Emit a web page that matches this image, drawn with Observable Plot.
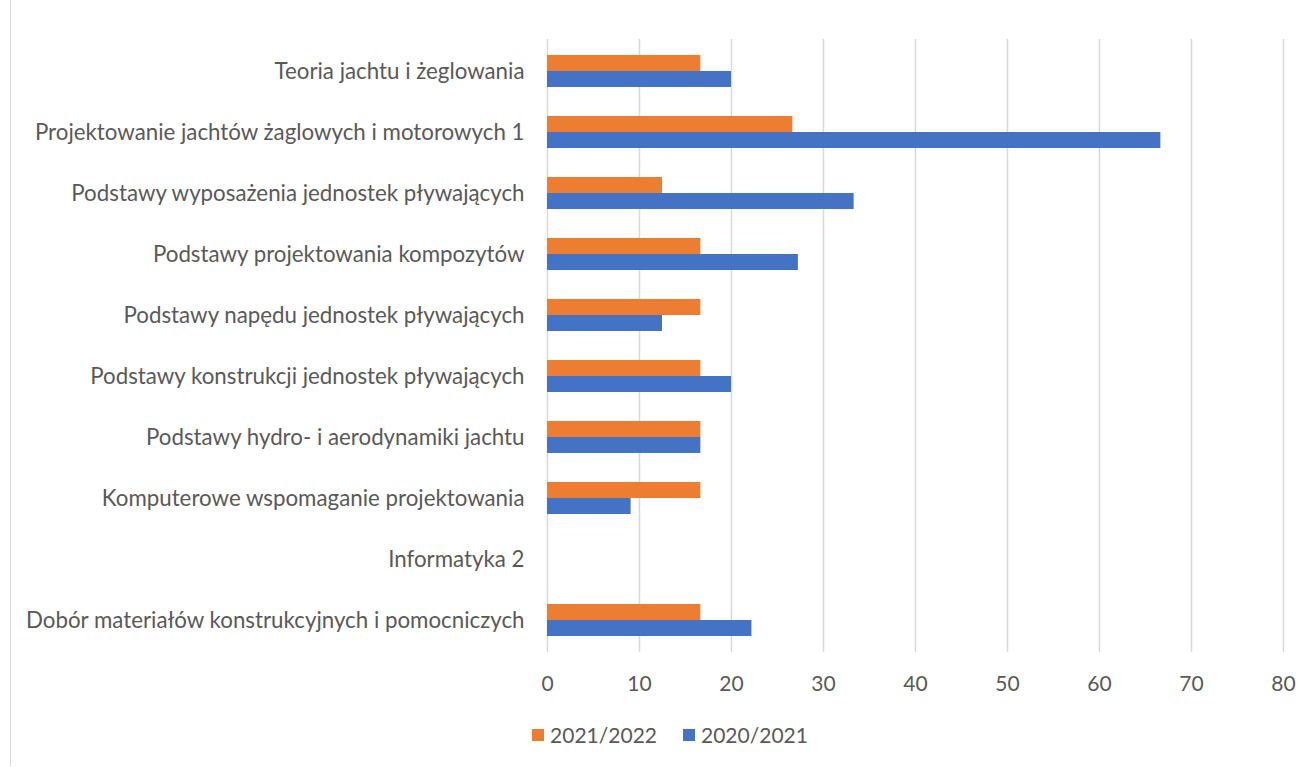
<!DOCTYPE html>
<html>
<head>
<meta charset="utf-8">
<script src="https://cdn.jsdelivr.net/npm/d3@7"></script>
<script src="https://cdn.jsdelivr.net/npm/@observablehq/plot@0.6"></script>
<style>
  html, body { margin: 0; padding: 0; background: #fff; width: 1311px; height: 767px; overflow: hidden; }
  #frame { position: absolute; left: 10px; top: 0; width: 1400px; height: 766px; border-left: 1px solid #d9d9d9; }
  #chart { position: absolute; left: 0; top: 0; }
  #legend { position: absolute; left: 0; top: 722px; width: 1340px; display: flex; justify-content: center; font-family: Lato, "Open Sans", sans-serif; font-size: 21px; color: #595959; }
  .item { display: flex; align-items: center; margin: 0 13px; }
  .sw { width: 12px; height: 12px; margin-right: 6px; }
</style>
</head>
<body>
<div id="frame"></div>
<div id="chart"></div>
<div id="legend"></div>
<script>
const categories = [
  "Teoria jachtu i żeglowania",
  "Projektowanie jachtów żaglowych i motorowych 1",
  "Podstawy wyposażenia jednostek pływających",
  "Podstawy projektowania kompozytów",
  "Podstawy napędu jednostek pływających",
  "Podstawy konstrukcji jednostek pływających",
  "Podstawy hydro- i aerodynamiki jachtu",
  "Komputerowe wspomaganie projektowania",
  "Informatyka 2",
  "Dobór materiałów konstrukcyjnych i pomocniczych"
];
const series = ["2021/2022", "2020/2021"];
const values2122 = [16.67, 26.67, 12.5, 16.67, 16.67, 16.67, 16.67, 16.67, null, 16.67];
const values2021 = [20, 66.67, 33.33, 27.27, 12.5, 20, 16.67, 9.09, null, 22.22];
const xTicks = [0, 10, 20, 30, 40, 50, 60, 70, 80];
const colors = {"2021/2022": "#ED7D31", "2020/2021": "#4472C4"};

const rows2122 = categories.map((c, i) => ({category: c, value: values2122[i]}));
const rows2021 = categories.map((c, i) => ({category: c, value: values2021[i]}));

const plot = Plot.plot({
  width: 1311,
  height: 710,
  marginLeft: 547,
  marginRight: 28,
  marginTop: 39,
  marginBottom: 58,
  style: {fontFamily: "Lato, 'Open Sans', sans-serif", fontSize: "21px", color: "#595959", background: "transparent"},
  x: {domain: [0, 80], ticks: xTicks, tickSize: 0, tickPadding: 24, label: null},
  y: {domain: categories, paddingInner: 0.48, paddingOuter: 0.24, tickSize: 0, tickPadding: 23, label: null},
  marks: [
    Plot.gridX(xTicks, {stroke: "#d9d9d9", strokeOpacity: 1, strokeWidth: 1.5}),
    Plot.barX(rows2122, {x: "value", y: "category", fill: colors["2021/2022"], insetBottom: 16}),
    Plot.barX(rows2021, {x: "value", y: "category", fill: colors["2020/2021"], insetTop: 16}),
    Plot.axisX({ticks: xTicks, tickSize: 0, tickPadding: 24, label: null, fontSize: 21}),
    Plot.axisY({tickSize: 0, tickPadding: 23, label: null, fontSize: 22.3})
  ]
});
document.getElementById("chart").appendChild(plot);

const legend = document.getElementById("legend");
for (const s of series) {
  const item = document.createElement("div");
  item.className = "item";
  const sw = document.createElement("span");
  sw.className = "sw";
  sw.style.background = colors[s];
  const t = document.createElement("span");
  t.textContent = s;
  item.appendChild(sw);
  item.appendChild(t);
  legend.appendChild(item);
}
</script>
</body>
</html>
